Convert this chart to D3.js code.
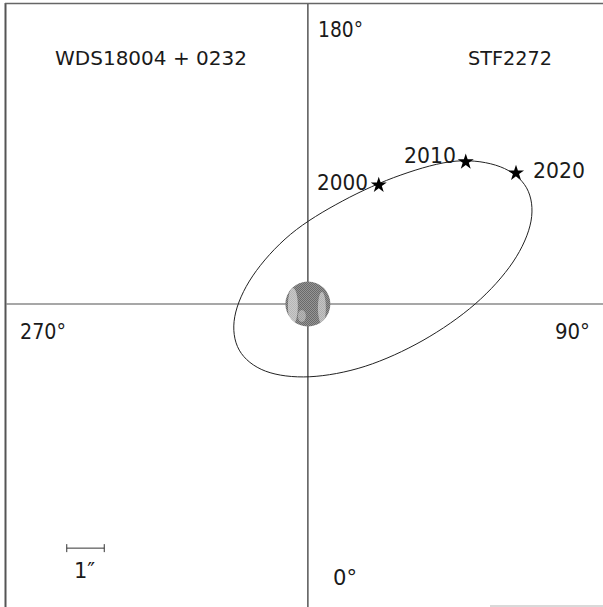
<!DOCTYPE html>
<html><head><meta charset="utf-8">
<script src="https://cdn.jsdelivr.net/npm/d3@7"></script>
<style>html,body{margin:0;padding:0;background:#fff;}svg{display:block;}</style>
</head><body>
<script>
// Apparent orbit of STF2272 (arcsec; x to the right = toward 90°, y up = toward 180°)
const orbitX = [5.83, 5.95, 5.47, 4.46, 3.07, 1.53, 0.05, -1.13, -1.83, -1.95, -1.47, -0.46, 0.93, 2.48, 3.95, 5.13];
const orbitY = [3.10, 2.21, 1.12, 0.00, -0.97, -1.66, -1.94, -1.79, -1.23, -0.34, 0.75, 1.86, 2.75, 3.44, 3.81, 3.66];
const epochs = ["2000", "2010", "2020"];
const epochX = [1.89, 4.21, 5.55];
const epochY = [3.17, 3.79, 3.49];
const angleLabels = ["180°", "90°", "0°", "270°"];
const titleLeft = "WDS18004 + 0232";
const titleRight = "STF2272";
const scaleLabel = "1\u2033";

const W = 603, H = 607;
const svg = d3.select("body").append("svg").attr("width", W).attr("height", H);
const x = d3.scaleLinear().domain([-8.05, 7.87]).range([6, 603]);
const y = d3.scaleLinear().domain([-8.08, 8.0]).range([607, 4]);

const defs = svg.append("defs");
const pat = defs.append("pattern").attr("id", "dith").attr("width", 2).attr("height", 2).attr("patternUnits", "userSpaceOnUse");
pat.append("rect").attr("width", 2).attr("height", 2).attr("fill", "#959595");
pat.append("rect").attr("width", 1).attr("height", 1).attr("fill", "#6a6a6a");
pat.append("rect").attr("x", 1).attr("y", 1).attr("width", 1).attr("height", 1).attr("fill", "#6a6a6a");

// frame
svg.append("line").attr("x1", 5.5).attr("x2", 5.5).attr("y1", 3).attr("y2", H).attr("stroke", "#555").attr("stroke-width", 2);
svg.append("line").attr("x1", 5).attr("x2", W).attr("y1", 3.5).attr("y2", 3.5).attr("stroke", "#666").attr("stroke-width", 1.5);
svg.append("line").attr("x1", 490).attr("x2", W).attr("y1", 606).attr("y2", 606).attr("stroke", "#ccc").attr("stroke-width", 1.5);

// axes through primary
svg.append("line").attr("x1", x(0)).attr("x2", x(0)).attr("y1", 4).attr("y2", H).attr("stroke", "#555").attr("stroke-width", 1.5);
svg.append("line").attr("x1", 6).attr("x2", W).attr("y1", y(0)).attr("y2", y(0)).attr("stroke", "#8a8a8a").attr("stroke-width", 1.5);

// primary
const g0 = svg.append("g");
const R = x(0.6) - x(0);
g0.append("circle").attr("cx", x(0)).attr("cy", y(0)).attr("r", R).attr("fill", "url(#dith)");
const clip = defs.append("clipPath").attr("id", "pc");
clip.append("circle").attr("cx", x(0)).attr("cy", y(0)).attr("r", R);
const streak = g0.append("g").attr("clip-path", "url(#pc)");
streak.append("ellipse").attr("cx", x(0) - 15).attr("cy", y(0) + 2).attr("rx", 5).attr("ry", 18).attr("fill", "#fff").attr("opacity", 0.5);
streak.append("ellipse").attr("cx", x(0) + 14).attr("cy", y(0) + 4).attr("rx", 4).attr("ry", 16).attr("fill", "#fff").attr("opacity", 0.45);
streak.append("ellipse").attr("cx", x(0) - 6).attr("cy", y(0) + 12).attr("rx", 4).attr("ry", 6).attr("fill", "#fff").attr("opacity", 0.35);

// orbit
const pts = orbitX.map((v, i) => [x(v), y(orbitY[i])]);
svg.append("path").attr("d", d3.line().curve(d3.curveCardinalClosed.tension(0))(pts))
  .attr("fill", "none").attr("stroke", "#222").attr("stroke-width", 1);

// epochs
const star = d3.symbol().type(d3.symbolStar).size(80);
epochs.forEach((e, i) => {
  svg.append("path").attr("d", star).attr("transform", `translate(${x(epochX[i])},${y(epochY[i])})`).attr("fill", "#000");
});

const font = "'DejaVu Sans', sans-serif";
function txt(t, px, py, size, len) {
  const el = svg.append("text").attr("x", px).attr("y", py).text(t)
    .attr("font-family", font).attr("font-size", size).attr("fill", "#1a1a1a");
  if (len) el.attr("textLength", len).attr("lengthAdjust", "spacingAndGlyphs");
  return el;
}
// epoch labels
txt(epochs[0], 317, 190, 21, 51);
txt(epochs[1], 404, 163, 21, 52);
txt(epochs[2], 533, 178, 21, 52);
// angle labels
txt(angleLabels[0], 318, 37, 21, 45);
txt(angleLabels[1], 555, 339, 21, 35);
txt(angleLabels[2], 333, 585, 21, 24);
txt(angleLabels[3], 20, 339, 21, 46);
// titles
txt(titleLeft, 55, 65, 20, 192);
txt(titleRight, 468, 65, 20, 84);

// scale bar 1 arcsec
const sbY = y(-6.51), sbX0 = x(-6.43), sbX1 = x(-5.43);
svg.append("line").attr("x1", sbX0).attr("x2", sbX1).attr("y1", sbY).attr("y2", sbY).attr("stroke", "#333").attr("stroke-width", 1);
svg.append("line").attr("x1", sbX0).attr("x2", sbX0).attr("y1", sbY - 4).attr("y2", sbY + 4).attr("stroke", "#333").attr("stroke-width", 1);
svg.append("line").attr("x1", sbX1).attr("x2", sbX1).attr("y1", sbY - 4).attr("y2", sbY + 4).attr("stroke", "#333").attr("stroke-width", 1);
txt(scaleLabel, 74, 578, 21);
</script>
</body></html>
